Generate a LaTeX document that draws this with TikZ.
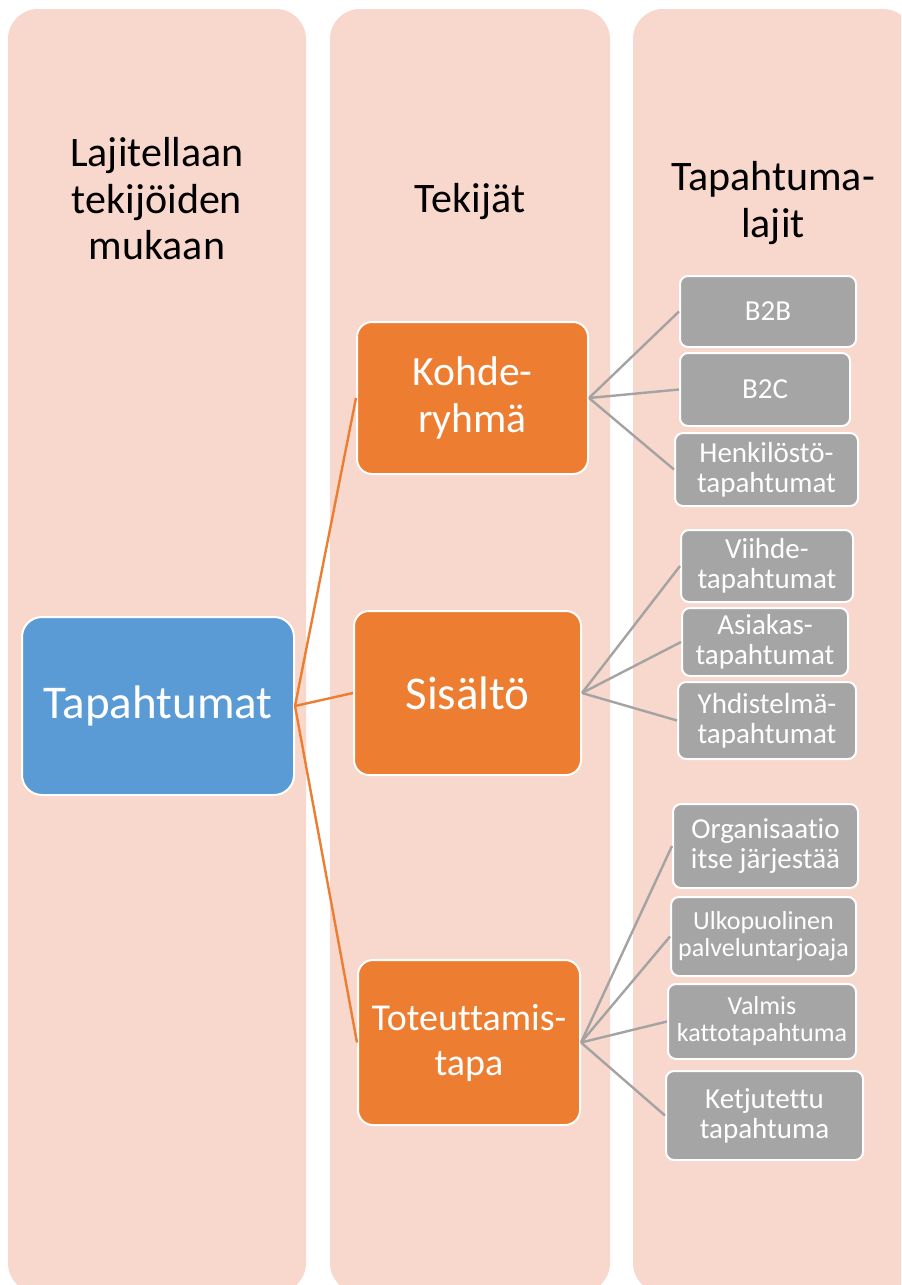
\documentclass[tikz,border=0pt]{standalone}
\usepackage{fontspec}
\setmainfont{Carlito}[Ligatures=NoCommon]
\definecolor{panelc}{HTML}{F8D7CD}
\definecolor{bluec}{HTML}{5B9BD5}
\definecolor{orangec}{HTML}{ED7D31}
\definecolor{grayc}{HTML}{A5A5A5}
\definecolor{glinec}{HTML}{A3A3A3}
\begin{document}
\begin{tikzpicture}[x=0.5pt,y=-0.5pt,
  panel/.style={fill=panelc, rounded corners=15pt},
  hdr/.style={align=center, inner sep=0pt, font=\fontsize{21}{23.25}\selectfont},
  mainbox/.style={draw=white, line width=1pt, fill=bluec, rounded corners=10pt, text=white, align=center, inner sep=0pt},
  catbox/.style={draw=white, line width=1pt, fill=orangec, rounded corners=7.5pt, text=white, align=center, inner sep=0pt},
  leafbox/.style={draw=white, line width=1pt, fill=grayc, rounded corners=4pt, text=white, align=center, inner sep=0pt, font=\fontsize{14.5}{15}\selectfont},
  smallleaf/.style={leafbox, font=\fontsize{13}{13.5}\selectfont},
  oline/.style={draw=orangec, line width=1.2pt},
  gline/.style={draw=glinec, line width=1.2pt}]
\useasboundingbox (0,0) rectangle (901,1285);
\clip (0,0) rectangle (901,1285);
% panels
\path[panel] (8,9) rectangle (306,1293);
\path[panel] (330,9) rectangle (610,1293);
\path[panel] (633,9) rectangle (913,1293);
% headers
\node[hdr] (h1) at (157,199) {Lajitellaan\\tekijöiden\\mukaan};
\node[hdr] (h2) at (470,202) {Tekijät};
\node[hdr] (h3) at (773,203) {Tapahtuma-\\lajit};
% main node
\node[mainbox, minimum width=136pt, minimum height=89pt, font=\fontsize{23.5}{26}\selectfont] (tap) at (158,706) {Tapahtumat};
% categories
\node[catbox, minimum width=115.5pt, minimum height=76pt, font=\fontsize{20.8}{23.5}\selectfont] (koh) at (472.5,398) {Kohde-\\ryhmä};
\node[catbox, minimum width=113.5pt, minimum height=82pt, font=\fontsize{23.5}{26}\selectfont] (sis) at (467.5,693) {Sisältö};
\node[catbox, minimum width=111pt, minimum height=82.5pt, font=\fontsize{19}{22.5}\selectfont] (tot) at (469,1042.5) {Toteuttamis-\\tapa};
% leaves
\node[leafbox, minimum width=88pt, minimum height=35.5pt] (b2b) at (768,311.5) {B2B};
\node[leafbox, minimum width=85pt, minimum height=36.5pt] (b2c) at (765,389.5) {B2C};
\node[leafbox, minimum width=91.5pt, minimum height=36.5pt] (hen) at (766.5,469.5) {Henkilöstö-\\tapahtumat};
\node[leafbox, minimum width=86pt, minimum height=36pt] (vii) at (767,566) {Viihde-\\tapahtumat};
\node[leafbox, minimum width=83pt, minimum height=34pt] (asi) at (765,642) {Asiakas-\\tapahtumat};
\node[leafbox, minimum width=89pt, minimum height=38.5pt] (yhd) at (767,720.5) {Yhdistelmä-\\tapahtumat};
\node[leafbox, minimum width=92.5pt, minimum height=42pt] (org) at (765.5,846) {Organisaatio\\itse järjestää};
\node[smallleaf, minimum width=92.5pt, minimum height=39.5pt] (ulk) at (763.5,936.5) {Ulkopuolinen\\palveluntarjoaja};
\node[smallleaf, minimum width=94pt, minimum height=37.5pt] (val) at (762,1021.5) {Valmis\\kattotapahtuma};
\node[leafbox, minimum width=98.5pt, minimum height=44.5pt] (ket) at (764.5,1115.5) {Ketjutettu\\tapahtuma};
% connectors
\draw[oline] (tap.east) -- (koh.west);
\draw[oline] (tap.east) -- (sis.west);
\draw[oline] (tap.east) -- (tot.west);
\draw[gline] (koh.east) -- (b2b.west);
\draw[gline] (koh.east) -- (b2c.west);
\draw[gline] (koh.east) -- (hen.west);
\draw[gline] (sis.east) -- (vii.west);
\draw[gline] (sis.east) -- (asi.west);
\draw[gline] (sis.east) -- (yhd.west);
\draw[gline] (tot.east) -- (org.west);
\draw[gline] (tot.east) -- (ulk.west);
\draw[gline] (tot.east) -- (val.west);
\draw[gline] (tot.east) -- (ket.west);
\end{tikzpicture}
\end{document}
